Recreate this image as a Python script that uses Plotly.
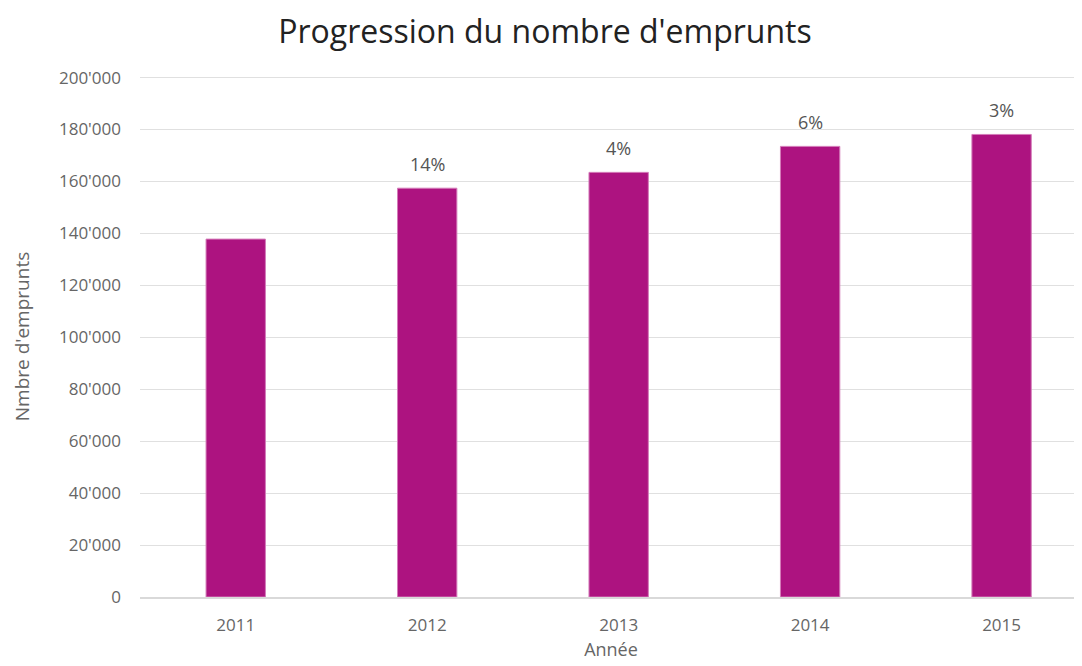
import plotly.graph_objects as go

years = ["2011", "2012", "2013", "2014", "2015"]
emprunts = [137800, 157400, 163500, 173500, 178100]
progression = ["", "14%", "4%", "6%", "3%"]
y_ticks = [0, 20000, 40000, 60000, 80000, 100000, 120000, 140000, 160000, 180000, 200000]

FONT = "Open Sans"
fig = go.Figure()
fig.add_trace(go.Bar(
    x=years, y=emprunts, width=0.31,
    marker=dict(color="#AD1380", line=dict(color="#d47cb9", width=1)),
    hoverinfo="skip",
))
for i, (v, lab) in enumerate(zip(emprunts, progression)):
    if lab:
        fig.add_annotation(x=i, y=v, xref="x", yref="y", text=lab, showarrow=False,
                           yanchor="bottom", yshift=10,
                           font=dict(family=FONT, size=18, color="#555555"))

fig.update_layout(
    width=1074, height=658,
    margin=dict(l=132, r=0, t=68, b=69),
    paper_bgcolor="white", plot_bgcolor="white",
    separators=".'",
    showlegend=False,
    title=dict(text="Progression du nombre d'emprunts", x=0.5, xanchor="center",
               y=0.964, yanchor="middle",
               font=dict(family=FONT, size=32, color="#222222")),
    xaxis=dict(type="category", range=[-0.5, 4.42], showgrid=False,
               showline=True, linecolor="#d9d9d9", linewidth=2,
               ticks="", ticklabelstandoff=12,
               tickfont=dict(family=FONT, size=17, color="#666666"),
               title=dict(text="Année", standoff=8, font=dict(family=FONT, size=18, color="#666666"))),
    yaxis=dict(range=[0, 200600], tickvals=y_ticks, tickformat=",d",
               showgrid=True, gridcolor="#e0e0e0", gridwidth=1, zeroline=False,
               ticks="", ticklabelstandoff=18,
               tickfont=dict(family=FONT, size=17, color="#666666"),
               title=dict(text="Nmbre d'emprunts", standoff=24, font=dict(family=FONT, size=19, color="#666666"))),
)
fig.write_html("out.html")
